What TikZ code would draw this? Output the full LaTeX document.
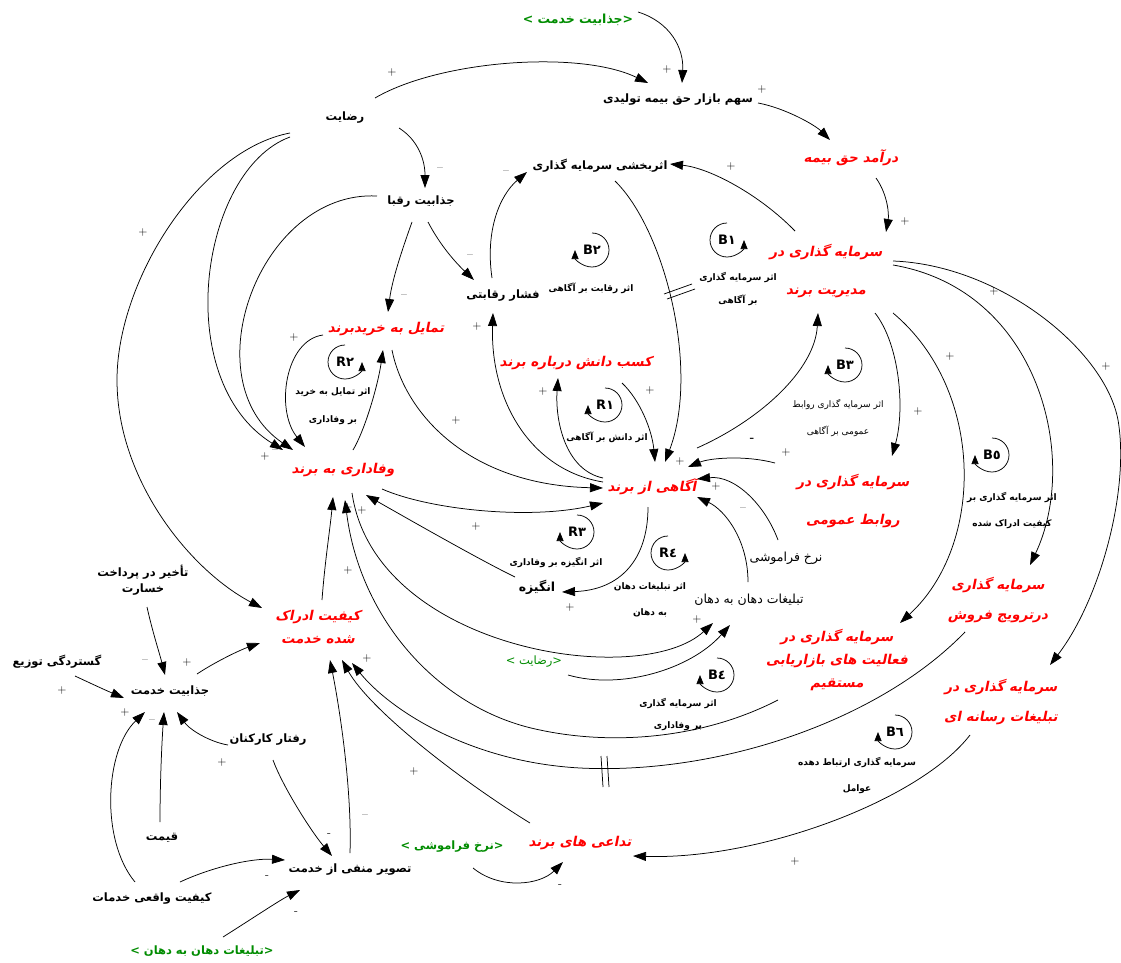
\documentclass[tikz,border=0pt]{standalone}
\usepackage{fontspec}
\usetikzlibrary{arrows.meta,calc}
\TeXXeTstate=1
\newfontfamily\farsi[Script=Arabic]{DejaVu Sans}
\newfontfamily\farsib[Script=Arabic]{DejaVu Sans Bold}
\newfontfamily\farsired[Script=Arabic,FakeSlant=0.2]{DejaVu Sans Bold}
\newfontfamily\latinb{DejaVu Sans Bold}
\newcommand\rl[1]{\beginR #1\endR}
\definecolor{vred}{RGB}{255,0,0}
\definecolor{vgreen}{RGB}{0,140,0}
\tikzset{
 lb/.style={font=\farsib\fontsize{11.5}{13}\selectfont, inner sep=1pt, align=center},
 lreg/.style={font=\farsi\fontsize{12.5}{14}\selectfont, inner sep=1pt, align=center},
 rd/.style={text=vred, inner sep=1pt, align=center},
 gr/.style={text=vgreen, font=\farsib\fontsize{11.5}{13}\selectfont, inner sep=1pt},
 sm/.style={font=\farsib\fontsize{9}{11}\selectfont, inner sep=1pt, align=center},
 arr/.style={-{Triangle[length=13pt,width=9pt]}, line width=0.75pt},
 sg/.style={font=\fontsize{12}{12}\selectfont, inner sep=0pt},
 lp/.style={-{Triangle[length=9pt,width=7pt]}, line width=0.75pt},
 lpt/.style={font=\latinb\fontsize{13}{14}\selectfont, inner sep=0pt},
 dl/.style={line width=0.75pt},
}
\newcommand\redf[1]{\farsired\fontsize{13.5}{#1}\selectfont}
\begin{document}
\begin{tikzpicture}[x=1pt,y=-1pt]
\fill[white] (0,0) rectangle (1121,963);
\useasboundingbox (0,0) rectangle (1121,963);

% ---------- variables ----------
\node[gr,font=\farsib\fontsize{12.5}{14}\selectfont] (gJK) at (578,20) {> \rl{جذابیت خدمت}<};
\node[lb] (sahmb) at (678,100) {\rl{سهم بازار حق بیمه تولیدی}};
\node[lb] (rez) at (345,118) {\rl{رضایت}};
\node[rd,font=\redf{16}] (daramad) at (851,158) {\rl{درآمد حق بیمه}};
\node[lb] (asar) at (600,166) {\rl{اثربخشی سرمایه گذاری}};
\node[lb] (jrogaba) at (421,202) {\rl{جذابیت رقبا}};
\node[lb] (feshar) at (503,296) {\rl{فشار رقابتی}};
\node[rd,font=\redf{38}] (modir) at (826,271) {\rl{سرمایه گذاری در}\\\rl{مدیریت برند}};
\node[rd,font=\redf{16}] (tamayol) at (386,329) {\rl{تمایل به خریدبرند}};
\node[rd,font=\redf{16}] (kasb) at (576,363) {\rl{کسب دانش درباره برند}};
\node[rd,font=\redf{16}] (vafa) at (343,470) {\rl{وفاداری به برند}};
\node[rd,font=\redf{16}] (agahi) at (652,487) {\rl{آگاهی از برند}};
\node[rd,font=\redf{38}] (ravabet) at (853,501) {\rl{سرمایه گذاری در}\\\rl{روابط عمومی}};
\node[lreg] (nerkh) at (786,558) {\rl{نرخ فراموشی}};
\node[lb,font=\farsib\fontsize{12.5}{14}\selectfont] (angize) at (537,587) {\rl{انگیزه}};
\node[lreg] (tabligh) at (749,600) {\rl{تبلیغات دهان به دهان}};
\node[rd,font=\redf{30}] (tarvij) at (998,600) {\rl{سرمایه گذاری}\\\rl{درترویج فروش}};
\node[rd,font=\redf{23}] (faal) at (837,660) {\rl{سرمایه گذاری در}\\\rl{فعالیت های بازاریابی}\\\rl{مستقیم}};
\node[rd,font=\redf{30}] (resane) at (1001,702) {\rl{سرمایه گذاری در}\\\rl{تبلیغات رسانه ای}};
\node[lb,font=\farsib\fontsize{11.5}{16}\selectfont] (takhir) at (143,580) {\rl{تأخیر در پرداخت}\\\rl{خسارت}};
\node[rd,font=\redf{23}] (keyfad) at (318,627) {\rl{کیفیت ادراک}\\\rl{شده خدمت}};
\node[lb] (gostar) at (57,662) {\rl{گستردگی توزیع}};
\node[lb] (jkhed) at (170,691) {\rl{جذابیت خدمت}};
\node[lb] (raftar) at (268,740) {\rl{رفتار کارکنان}};
\node[lb] (gheymat) at (162,838) {\rl{قیمت}};
\node[lb] (keyvag) at (152,899) {\rl{کیفیت واقعی خدمات}};
\node[lb] (tasvir) at (350,870) {\rl{تصویر منفی از خدمت}};
\node[gr] (gTab) at (202,951) {> \rl{تبلیغات دهان به دهان}<};
\node[gr] (gNerkh) at (452,847) {> \rl{نرخ فراموشی}<};
\node[rd,font=\redf{16}] (tadai) at (580,843) {\rl{تداعی های برند}};
\node[gr,font=\farsi\fontsize{11.5}{13}\selectfont] (gRez) at (534,662) {> \rl{رضایت}<};

% ---------- loop labels ----------
\coordinate (cB1) at (727,240);
\coordinate (cB2) at (592,250);
\coordinate (cB3) at (845,365);
\coordinate (cB4) at (717,675);
\coordinate (cB5) at (992,455);
\coordinate (cB6) at (895,732);
\coordinate (cR1) at (605,405);
\coordinate (cR2) at (345,362);
\coordinate (cR3) at (577,532);
\coordinate (cR4) at (668,553);
\node[lpt] (tB1) at (cB1) {B١};
\node[lpt] (tB2) at (cB2) {B٢};
\node[lpt] (tB3) at (cB3) {B٣};
\node[lpt] (tB4) at (cB4) {B٤};
\node[lpt] (tB5) at (cB5) {B٥};
\node[lpt] (tB6) at (cB6) {B٦};
\node[lpt] (tR1) at (cR1) {R١};
\node[lpt] (tR2) at (cR2) {R٢};
\node[lpt] (tR3) at (cR3) {R٣};
\node[lpt] (tR4) at (cR4) {R٤};
\begin{scope}[y=1pt]
\draw[lp] ($(cB1)+(0,17)$) arc[start angle=90,end angle=360,radius=17];
\draw[lp] ($(cR2)+(0,17)$) arc[start angle=90,end angle=360,radius=17];
\draw[lp] ($(cR4)+(0,17)$) arc[start angle=90,end angle=360,radius=17];
\draw[lp] ($(cB2)+(0,17)$) arc[start angle=90,end angle=-180,radius=17];
\draw[lp] ($(cB3)+(0,17)$) arc[start angle=90,end angle=-180,radius=17];
\draw[lp] ($(cB4)+(0,17)$) arc[start angle=90,end angle=-180,radius=17];
\draw[lp] ($(cB5)+(0,17)$) arc[start angle=90,end angle=-180,radius=17];
\draw[lp] ($(cB6)+(0,17)$) arc[start angle=90,end angle=-180,radius=17];
\draw[lp] ($(cR1)+(0,17)$) arc[start angle=90,end angle=-180,radius=17];
\draw[lp] ($(cR3)+(0,17)$) arc[start angle=90,end angle=-180,radius=17];
\end{scope}
\node[sm,font=\farsib\fontsize{9}{23}\selectfont] (lB1) at (738,289) {\rl{اثر سرمایه گذاری}\\\rl{بر آگاهی}};
\node[sm] (lB2) at (591,288) {\rl{اثر رقابت بر آگاهی}};
\node[sm,font=\farsi\fontsize{9}{27}\selectfont] (lB3) at (838,418) {\rl{اثر سرمایه گذاری روابط}\\\rl{عمومی بر آگاهی}};
\node[sm,font=\farsib\fontsize{9}{22}\selectfont] (lB4) at (678,714) {\rl{اثر سرمایه گذاری}\\\rl{بر وفاداری}};
\node[sm,font=\farsib\fontsize{9}{26}\selectfont] (lB5) at (1012,510) {\rl{اثر سرمایه گذاری بر}\\\rl{کیفیت ادراک شده}};
\node[sm,font=\farsib\fontsize{9}{26}\selectfont] (lB6) at (857,775) {\rl{سرمایه گذاری ارتباط دهده}\\\rl{عوامل}};
\node[sm] (lR1) at (607,437) {\rl{اثر دانش بر آگاهی}};
\node[sm,font=\farsib\fontsize{9}{28}\selectfont] (lR2) at (333,406) {\rl{اثر تمایل به خرید}\\\rl{بر وفاداری}};
\node[sm] (lR3) at (556,562) {\rl{اثر انگیزه بر وفاداری}};
\node[sm,font=\farsib\fontsize{9}{26}\selectfont] (lR4) at (650,600) {\rl{اثر تبلیغات دهان}\\\rl{به دهان}};

% ---------- connectors ----------
\draw[arr] ($(rez)+(30,-20)$) .. controls (440,60) and (580,50) .. ($(sahmb)+(-30,-17)$);
\draw[arr] ($(gJK)+(60,-8)$) .. controls (670,22) and (684,48) .. ($(sahmb)+(4,-17)$);
\draw[arr] ($(sahmb)+(80,3)$) .. controls (785,108) and (815,125) .. ($(daramad)+(-21,-18)$);
\draw[arr] ($(daramad)+(25,20)$) .. controls (888,195) and (889,215) .. ($(modir)+(60,-39)$);
\draw[arr] ($(modir)+(-31,-40)$) .. controls (760,195) and (710,168) .. ($(asar)+(70,-2)$);
\draw[arr] ($(asar)+(15,15)$) .. controls (665,230) and (700,370) .. ($(agahi)+(13,-25)$);
\draw[arr] ($(feshar)+(-11,-18)$) .. controls (485,230) and (500,195) .. ($(asar)+(-73,6)$);
\draw[arr] ($(jrogaba)+(7,20)$) .. controls (440,245) and (455,262) .. ($(feshar)+(-29,-16)$);
\draw[arr] ($(rez)+(54,10)$) .. controls (418,140) and (425,160) .. ($(jrogaba)+(4,-14)$);
\draw[arr] ($(jrogaba)+(-9,20)$) .. controls (402,250) and (392,280) .. ($(tamayol)+(2,-17)$);
\draw[arr] ($(jrogaba)+(-44,-6)$) .. controls (260,190) and (190,380) .. ($(vafa)+(-50,-20)$);
\draw[arr] ($(rez)+(-55,19)$) .. controls (200,170) and (170,380) .. ($(vafa)+(-60,-20)$);
\draw[arr] ($(rez)+(-55,15)$) .. controls (200,150) and (117,280) .. (117,380) .. controls (117,480) and (190,570) .. ($(keyfad)+(-56,-19)$);
\draw[arr] ($(tamayol)+(-63,6)$) .. controls (285,340) and (275,410) .. ($(vafa)+(-38,-23)$);
\draw[arr] ($(vafa)+(10,-20)$) .. controls (365,430) and (378,385) .. ($(tamayol)+(-3,21)$);
\draw[arr] ($(tamayol)+(6,21)$) .. controls (405,415) and (470,485) .. ($(agahi)+(-49,1)$);
\draw[arr] ($(vafa)+(39,19)$) .. controls (430,510) and (530,520) .. ($(agahi)+(-49,16)$);
\draw[arr] ($(angize)+(-22,-10)$) .. controls (480,560) and (410,520) .. ($(vafa)+(23,25)$);
\draw[arr] ($(agahi)+(-4,20)$) .. controls (648,560) and (620,590) .. ($(angize)+(25,5)$);
\draw[arr] ($(agahi)+(-49,-5)$) .. controls (530,470) and (490,400) .. ($(feshar)+(-10,17)$);
\draw[arr] ($(agahi)+(-49,-9)$) .. controls (565,470) and (555,420) .. ($(kasb)+(-18,15)$);
\draw[arr] ($(kasb)+(46,20)$) .. controls (640,400) and (652,430) .. ($(agahi)+(3,-25)$);
\draw[arr] ($(agahi)+(45,-39)$) .. controls (760,420) and (815,370) .. ($(modir)+(-8,42)$);
\draw[arr] ($(ravabet)+(-78,-38)$) .. controls (745,455) and (710,458) .. ($(agahi)+(36,-20)$);
\draw[arr] ($(nerkh)+(-8,-18)$) .. controls (765,505) and (735,475) .. ($(agahi)+(45,-8)$);
\draw[arr] ($(tabligh)+(-1,-18)$) .. controls (748,540) and (725,510) .. ($(agahi)+(45,10)$);
\draw[arr] ($(vafa)+(9,23)$) .. controls (375,650) and (640,690) .. ($(tabligh)+(-36,23)$);
\draw[arr] ($(gRez)+(34,13)$) .. controls (620,690) and (690,670) .. ($(tabligh)+(-19,25)$);
\draw[arr] ($(faal)+(-59,40)$) .. controls (700,740) and (610,745) .. (540,730) .. controls (440,710) and (360,620) .. ($(vafa)+(2,30)$);
\draw[arr] ($(tarvij)+(-33,32)$) .. controls (880,720) and (720,775) .. (580,768) .. controls (470,762) and (390,710) .. ($(keyfad)+(34,36)$);
\draw[arr] ($(resane)+(-31,33)$) .. controls (920,800) and (760,860) .. ($(tadai)+(53,13)$);
\draw[arr] ($(modir)+(49,42)$) .. controls (900,345) and (905,410) .. ($(ravabet)+(39,-45)$);
\draw[arr] ($(modir)+(67,42)$) .. controls (985,390) and (985,545) .. ($(faal)+(63,-37)$);
\draw[arr] ($(modir)+(67,-6)$) .. controls (1040,290) and (1080,460) .. ($(tarvij)+(32,-35)$);
\draw[arr] ($(modir)+(67,-10)$) .. controls (1000,265) and (1105,350) .. (1118,420) .. controls (1130,490) and (1100,600) .. ($(resane)+(49,-37)$);
\draw[arr] ($(gNerkh)+(21,21)$) .. controls (500,890) and (540,885) .. ($(tadai)+(-17,19)$);
\draw[arr] ($(tadai)+(-50,-20)$) .. controls (460,780) and (370,710) .. ($(keyfad)+(24,33)$);
\draw[arr] ($(tasvir)+(0,-17)$) .. controls (352,790) and (340,710) .. ($(keyfad)+(12,33)$);
\draw[arr] ($(keyfad)+(4,-27)$) .. controls (325,560) and (330,530) .. ($(vafa)+(-10,27)$);
\draw[arr] ($(takhir)+(4,27)$) .. controls (152,630) and (160,655) .. ($(jkhed)+(-5,-16)$);
\draw[arr] ($(gostar)+(18,14)$) .. controls (90,683) and (105,690) .. ($(jkhed)+(-46,7)$);
\draw[arr] ($(jkhed)+(27,-17)$) .. controls (215,662) and (240,650) .. ($(keyfad)+(-58,16)$);
\draw[arr] ($(keyvag)+(-17,-17)$) .. controls (100,840) and (105,750) .. ($(jkhed)+(-25,21)$);
\draw[arr] ($(gheymat)+(-2,-16)$) .. controls (160,780) and (162,740) .. ($(jkhed)+(-6,21)$);
\draw[arr] ($(raftar)+(-40,5)$) .. controls (210,742) and (190,730) .. ($(jkhed)+(7,21)$);
\draw[arr] ($(raftar)+(5,20)$) .. controls (282,785) and (310,830) .. ($(tasvir)+(-18,-14)$);
\draw[arr] ($(keyvag)+(28,-17)$) .. controls (210,868) and (250,858) .. ($(tasvir)+(-65,-10)$);
\draw[arr] ($(gTab)+(21,-14)$) .. controls (250,920) and (280,900) .. ($(tasvir)+(-50,20)$);

% delay marks
\draw[dl] (664,294) -- (692,284);
\draw[dl] (667,299) -- (695,289);
\draw[dl] (601,756) -- (603,787);
\draw[dl] (607,756) -- (609,787);

% ---------- polarity signs ----------
\node[sg] (s1) at (392,73) {+};
\node[sg] (s2) at (667,70) {+};
\node[sg] (s3) at (762,90) {+};
\node[sg] (s4) at (905,222) {+};
\node[sg] (s5) at (731,167) {+};
\node[sg] (s6) at (506,173) {–};
\node[sg] (s7) at (440,170) {–};
\node[sg] (s8) at (470,257) {–};
\node[sg] (s9) at (404,297) {–};
\node[sg] (s10) at (477,327) {+};
\node[sg] (s11) at (294,338) {+};
\node[sg] (s12) at (143,233) {+};
\node[sg] (s13) at (265,457) {+};
\node[sg] (s14) at (275,452) {–};
\node[sg] (s15) at (456,421) {+};
\node[sg] (s16) at (543,392) {+};
\node[sg] (s17) at (650,391) {+};
\node[sg] (s18) at (476,527) {+};
\node[sg] (s19) at (570,607) {+};
\node[sg] (s20) at (348,508) {+};
\node[sg] (s21) at (362,511) {+};
\node[sg] (s22) at (348,570) {+};
\node[sg] (s23) at (367,658) {+};
\node[sg] (s24) at (414,771) {+};
\node[sg] (s25) at (365,817) {–};
\node[sg] (s26) at (329,835) {-};
\node[sg] (s27) at (267,877) {-};
\node[sg] (s28) at (296,913) {-};
\node[sg] (s29) at (560,886) {-};
\node[sg] (s30) at (795,861) {+};
\node[sg] (s31) at (697,619) {+};
\node[sg] (s32) at (680,462) {+};
\node[sg] (s33) at (716,487) {+};
\node[sg] (s34) at (743,510) {–};
\node[sg,font=\bfseries\fontsize{12}{12}\selectfont] (s35) at (752,440) {-};
\node[sg] (s36) at (786,453) {+};
\node[sg] (s37) at (918,412) {+};
\node[sg] (s38) at (950,357) {+};
\node[sg] (s39) at (994,292) {+};
\node[sg] (s40) at (1106,367) {+};
\node[sg] (s41) at (145,662) {–};
\node[sg] (s42) at (187,662) {+};
\node[sg] (s43) at (62,690) {+};
\node[sg] (s44) at (125,712) {+};
\node[sg] (s45) at (152,722) {–};
\node[sg] (s46) at (222,762) {+};
\end{tikzpicture}
\end{document}
